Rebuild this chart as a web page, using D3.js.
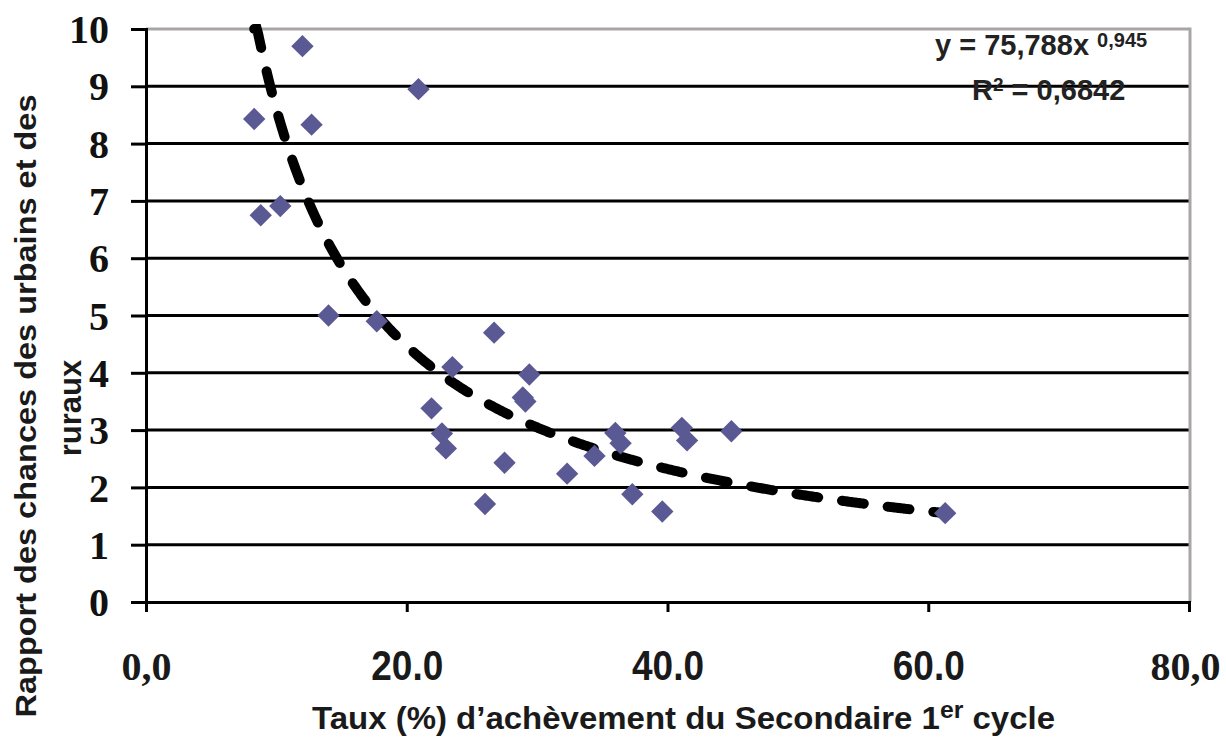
<!DOCTYPE html>
<html>
<head>
<meta charset="utf-8">
<script src="https://cdn.jsdelivr.net/npm/d3@7"></script>
<style>
  body { margin: 0; background: #fff; }
  svg { display: block; }
</style>
</head>
<body>
<svg width="1226" height="738"></svg>
<script>
var width = 1226,
    height = 738;

// taux d'achevement (%) du secondaire 1er cycle
var tauxAchevement = [8.3, 8.8, 10.3, 12.0, 12.7, 14.0, 17.7, 20.9, 21.9, 22.7,
                      23.0, 23.5, 26.0, 26.7, 27.5, 28.9, 29.1, 29.4, 32.3, 34.4,
                      36.0, 36.4, 37.3, 39.6, 41.1, 41.5, 44.9, 61.3];
// rapport des chances urbains / ruraux
var rapportChances = [8.43, 6.75, 6.91, 9.70, 8.33, 5.00, 4.90, 8.95, 3.38, 2.94,
                      2.68, 4.10, 1.71, 4.70, 2.43, 3.57, 3.50, 3.97, 2.24, 2.55,
                      2.95, 2.77, 1.88, 1.58, 3.04, 2.82, 2.98, 1.55];

var yTicks = [0, 1, 2, 3, 4, 5, 6, 7, 8, 9, 10];
var xTicks = [0, 20, 40, 60, 80];
var xTickLabels = ["0,0", "20.0", "40.0", "60.0", "80,0"];

// trendline given on the chart : y = 75,788 x^-0,945
var trendA = 75.788,
    trendB = -0.945;

var svg = d3.select("svg");

svg.append("rect").attr("width", width).attr("height", height).attr("fill", "#fff");

var x = d3.scaleLinear().domain([0, 80]).range([146, 1189]);
var y = d3.scaleLinear().domain([0, 10]).range([602, 29]);

//gridlines
svg.append("g")
   .selectAll("line")
   .data(yTicks.filter(function(d) { return d > 0; }))
   .enter().append("line")
   .attr("x1", x(0)).attr("x2", x(80))
   .attr("y1", function(d) { return y(d); })
   .attr("y2", function(d) { return y(d); })
   .attr("stroke", function(d) { return d == 10 ? "#aaa5a5" : "#000"; })
   .attr("stroke-width", 3);

// right border
svg.append("line")
   .attr("x1", x(80) + 1).attr("x2", x(80) + 1)
   .attr("y1", y(10) - 1.5).attr("y2", y(0))
   .attr("stroke", "#aaa5a5")
   .attr("stroke-width", 3);

// y axis
var yAxis = d3.axisLeft(y).tickValues(yTicks).tickSize(15).tickPadding(22)
              .tickFormat(function(d) { return d; });
var gy = svg.append("g").attr("transform", "translate(" + x(0) + ",0)").call(yAxis);
gy.select(".domain").attr("stroke", "#000").attr("stroke-width", 3);
gy.selectAll(".tick line").attr("stroke", "#000").attr("stroke-width", 3);
gy.selectAll(".tick text")
  .attr("fill", "#111")
  .attr("dy", "0.34em")
  .style("font-family", "'Liberation Serif', 'DejaVu Serif', serif")
  .style("font-size", "40px")
  .style("font-weight", "bold");

// x axis
var xAxis = d3.axisBottom(x).tickValues(xTicks).tickSize(10)
              .tickFormat(function(d, i) { return xTickLabels[i]; });
var gx = svg.append("g").attr("transform", "translate(0," + y(0) + ")").call(xAxis);
gx.select(".domain").attr("stroke", "#000").attr("stroke-width", 3);
gx.selectAll(".tick line").attr("stroke", "#000").attr("stroke-width", 3);
gx.selectAll(".tick text")
  .attr("y", 78).attr("dy", 0)
  .attr("fill", "#1a1a1a")
  .each(function(d, i) {
      var t = d3.select(this);
      if (xTickLabels[i].indexOf(",") >= 0) {
          t.style("font-family", "'Liberation Serif', serif").style("font-size", "40px")
           .style("font-weight", "bold");
          if (i == xTicks.length - 1) t.attr("dx", -4);
      } else {
          t.style("font-family", "'Liberation Sans', Arial, sans-serif")
           .style("font-size", "42px").style("font-weight", "bold")
           .attr("textLength", 72).attr("lengthAdjust", "spacingAndGlyphs");
      }
  });

// trendline
var trendX = d3.range(d3.min(tauxAchevement), d3.max(tauxAchevement) + 0.01, 0.1);
var line = d3.line()
  .x(function(d) { return x(d); })
  .y(function(d) { return y(Math.min(10, trendA * Math.pow(d, trendB))); });

svg.append("path")
   .datum(trendX)
   .attr("d", line)
   .attr("fill", "none")
   .attr("stroke", "#000")
   .attr("stroke-width", 10)
   .attr("stroke-dasharray", "22,24")
   .attr("stroke-linecap", "round");

// points
var diamond = d3.symbol().type(d3.symbolSquare).size(250);
svg.append("g")
   .selectAll("path")
   .data(d3.zip(tauxAchevement, rapportChances))
   .enter().append("path")
   .attr("d", diamond)
   .attr("transform", function(d) { return "translate(" + x(d[0]) + "," + y(d[1]) + ") rotate(45)"; })
   .attr("fill", "#5b5993");

// equation
var sans = "'Liberation Sans', Arial, sans-serif";
var eq = svg.append("text")
   .attr("x", 935).attr("y", 55)
   .attr("fill", "#222")
   .style("font-family", sans).style("font-weight", "bold").style("font-size", "29px");
eq.append("tspan").text("y = 75,788x ");
eq.append("tspan").attr("dy", -8).style("font-size", "20px").text("0,945");

var r2 = svg.append("text")
   .attr("x", 972).attr("y", 100)
   .attr("fill", "#222")
   .style("font-family", sans).style("font-weight", "bold").style("font-size", "29px");
r2.append("tspan").text("R");
r2.append("tspan").attr("dy", -9).style("font-size", "19px").text("2");
r2.append("tspan").attr("dy", 9).text(" = 0,6842");

// axis titles
var xt = svg.append("text")
   .attr("x", 312).attr("y", 729)
   .attr("fill", "#1a1a1a")
   .attr("textLength", 743).attr("lengthAdjust", "spacingAndGlyphs")
   .style("font-family", sans).style("font-weight", "bold").style("font-size", "32px");
xt.append("tspan").text("Taux (%) d’achèvement du Secondaire 1");
xt.append("tspan").attr("dy", -11).style("font-size", "24px").text("er");
xt.append("tspan").attr("dy", 11).text(" cycle");

svg.append("text")
   .attr("transform", "translate(36,406) rotate(-90)")
   .attr("text-anchor", "middle")
   .attr("fill", "#1a1a1a")
   .attr("textLength", 623).attr("lengthAdjust", "spacingAndGlyphs")
   .style("font-family", sans).style("font-weight", "bold").style("font-size", "30px")
   .text("Rapport des chances des urbains et des");

svg.append("text")
   .attr("transform", "translate(81,408) rotate(-90)")
   .attr("text-anchor", "middle")
   .attr("fill", "#1a1a1a")
   .style("font-family", sans).style("font-weight", "bold").style("font-size", "31px")
   .text("ruraux");
</script>
</body>
</html>
